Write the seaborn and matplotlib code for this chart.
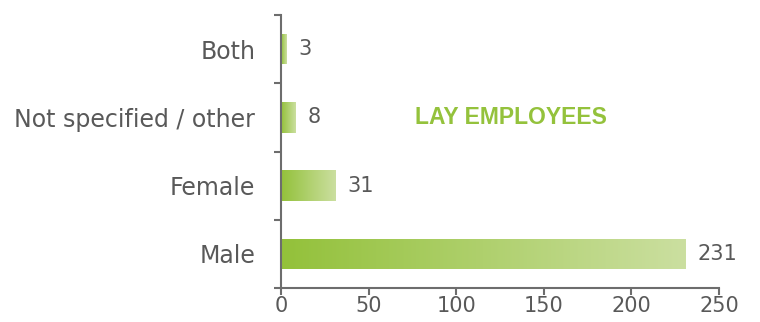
import numpy as np
import matplotlib
matplotlib.use("Agg")
import matplotlib.pyplot as plt
import seaborn as sns
from matplotlib.colors import LinearSegmentedColormap
from matplotlib.ticker import FixedLocator

# data
categories = ["Both", "Not specified / other", "Female", "Male"]
counts = [3, 8, 31, 231]
x_ticks = [0, 50, 100, 150, 200, 250]
panel_label = "LAY EMPLOYEES"

sns.set_style("white")
plt.rcParams["font.family"] = ["DejaVu Sans"]

grey = "#595959"
spine_grey = "#6d6d6d"
green = "#93c13a"
light_green = "#cbdfa0"

fig = plt.figure(figsize=(7.6, 3.22), dpi=100)
ax = fig.add_axes([0.3697, 0.1056, 0.5763, 0.8478])

sns.barplot(x=counts, y=categories, orient="h", width=0.45,
            color=green, ax=ax)

# gradient fill for each bar
cmap = LinearSegmentedColormap.from_list("grad", [green, light_green])
grad = np.linspace(0, 1, 256).reshape(1, -1)
for patch in ax.patches:
    x0, y0 = patch.get_x(), patch.get_y()
    w, h = patch.get_width(), patch.get_height()
    patch.set_facecolor("none")
    patch.set_edgecolor("none")
    im = ax.imshow(grad, cmap=cmap, aspect="auto",
                   extent=[x0, x0 + w, y0 + h, y0], zorder=2)
    im.set_clip_path(patch)

for i, v in enumerate(counts):
    ax.text(v + 7, i, str(v), va="center", ha="left",
            fontsize=15, color=grey)

ax.set_xlim(0, 250)
ax.set_ylim(3.5, -0.5)
ax.set_xticks(x_ticks)
ax.set_xticklabels([str(t) for t in x_ticks], fontsize=15, color=grey)
ax.set_yticks(range(len(categories)))
ax.set_yticklabels(categories, fontsize=17, color=grey)
ax.yaxis.set_minor_locator(FixedLocator([-0.5, 0.5, 1.5, 2.5, 3.5]))

ax.tick_params(axis="y", which="major", length=0, pad=18.5)
ax.tick_params(axis="y", which="minor", length=5, width=1.5,
               color=spine_grey, direction="out", left=True)
ax.tick_params(axis="x", which="major", length=5, width=1.5,
               color=spine_grey, direction="out", bottom=True, pad=1)

for side in ["top", "right"]:
    ax.spines[side].set_visible(False)
for side in ["left", "bottom"]:
    ax.spines[side].set_color(spine_grey)
    ax.spines[side].set_linewidth(1.5)

ax.text(0.526, 0.625, panel_label, transform=ax.transAxes,
        ha="center", va="center", fontsize=16.5, fontweight="bold",
        color="#94c23c", family=["Liberation Sans"])

ax.set_xlabel("")
ax.set_ylabel("")

fig.savefig("out.png", dpi=100)
